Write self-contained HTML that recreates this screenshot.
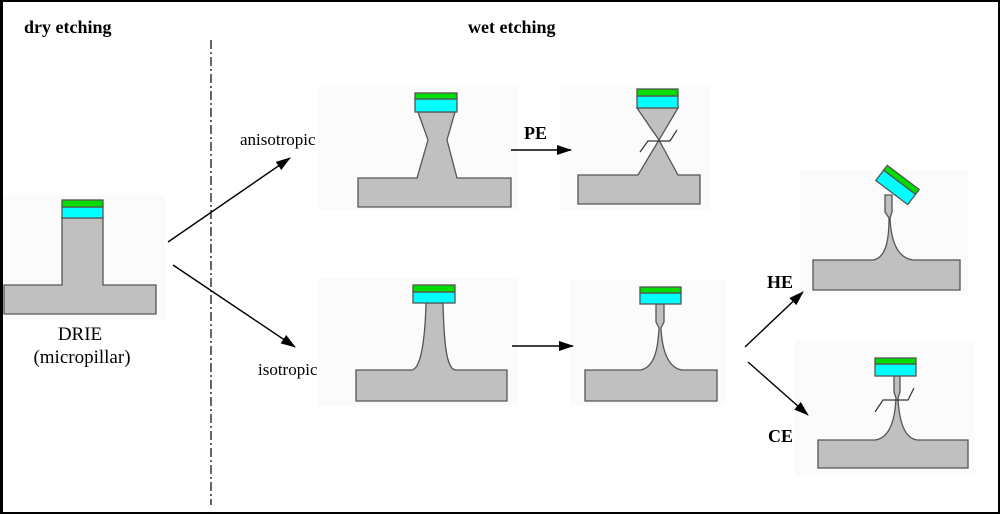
<!DOCTYPE html>
<html><head><meta charset="utf-8"><style>
html,body{margin:0;padding:0;background:#fff;}
svg{display:block;}
text{font-family:"Liberation Serif",serif;fill:#000;}
</style></head><body>
<svg width="1000" height="514" viewBox="0 0 1000 514" xmlns="http://www.w3.org/2000/svg">
<defs>
<marker id="ah" markerWidth="16" markerHeight="12" refX="14" refY="6" orient="auto" markerUnits="userSpaceOnUse">
<path d="M0,1 L15,6 L0,11 Z" fill="#000"/>
</marker>
</defs>
<rect x="1" y="1" width="998" height="512" fill="#fff" stroke="#000" stroke-width="2"/>
<line x1="1.5" y1="0" x2="1.5" y2="514" stroke="#000" stroke-width="3"/>

<text x="24" y="33" font-size="18" font-weight="bold">dry etching</text>
<text x="468" y="33" font-size="18" font-weight="bold">wet etching</text>

<line x1="211" y1="40" x2="211" y2="505" stroke="#000" stroke-width="1.2" stroke-dasharray="9,3,2,3"/>

<g fill="#fbfbfb">
<rect x="3" y="195" width="162" height="125"/>
<rect x="318" y="85" width="200" height="125"/>
<rect x="560" y="85" width="150" height="125"/>
<rect x="318" y="278" width="200" height="128"/>
<rect x="570" y="280" width="155" height="126"/>
<rect x="800" y="170" width="168" height="125"/>
<rect x="795" y="340" width="180" height="135"/>
</g>

<g stroke="#555" stroke-width="1.3" fill="#c0c0c0">
<path d="M62,218 L103,218 L103,285 L156,285 L156,314 L4,314 L4,285 L62,285 Z"/>
<rect x="62" y="207" width="41" height="11" fill="#00ffff"/>
<rect x="62" y="200" width="41" height="7" fill="#00dd00"/>

<path d="M418,112 L455,112 L447,140 L457,178 L511,178 L511,207 L358,207 L358,178 L417,178 L428,140 Z"/>
<rect x="415" y="99" width="42" height="13" fill="#00ffff"/>
<rect x="415" y="93" width="42" height="6" fill="#00dd00"/>

<path d="M637,108 L678,108 L659,140 L678,175 L700,175 L700,204 L578,204 L578,175 L638,175 L659,140 Z"/>
<rect x="637" y="96" width="41" height="12" fill="#00ffff"/>
<rect x="637" y="89" width="41" height="7" fill="#00dd00"/>

<path d="M426,303 L443,303 C444,340 446,368 455,370 L507,370 L507,401 L356,401 L356,370 L412,370 C421,368 425,340 426,303 Z"/>
<rect x="413" y="292" width="42" height="11" fill="#00ffff"/>
<rect x="413" y="285" width="42" height="7" fill="#00dd00"/>

<path d="M656,304 L664,304 L664,322 L661,328 C662,350 668,368 682,370 L717,370 L717,401 L585,401 L585,370 L640,370 C654,368 658,350 659,328 L656,322 Z"/>
<rect x="640" y="293" width="41" height="11" fill="#00ffff"/>
<rect x="640" y="287" width="41" height="6" fill="#00dd00"/>

<path d="M885,195 L892,195 L892,212 L890,218 C891,240 897,258 913,260 L960,260 L960,290 L813,290 L813,260 L873,260 C886,258 889,240 889,218 L885,212 Z"/>
<g transform="translate(896,187) rotate(37)">
<rect x="-20" y="-6" width="40" height="13" fill="#00ffff"/>
<rect x="-20" y="-12" width="40" height="6" fill="#00dd00"/>
</g>

<path d="M894,376 L900,376 L900,392 L898,398 C899,420 904,438 917,440 L968,440 L968,468 L818,468 L818,440 L875,440 C890,438 895,420 896,398 L894,392 Z"/>
<rect x="875" y="364" width="41" height="12" fill="#00ffff"/>
<rect x="875" y="358" width="41" height="6" fill="#00dd00"/>
</g>

<g stroke="#333" stroke-width="1.2" fill="none">
<path d="M640,152 L648,141 L670,141 L677,130"/>
<path d="M875,412 L883,400 L908,400 L914,388"/>
</g>

<g stroke="#000" stroke-width="1.4">
<line x1="168" y1="242" x2="290" y2="158" marker-end="url(#ah)"/>
<line x1="173" y1="265" x2="295" y2="347" marker-end="url(#ah)"/>
<line x1="511" y1="150" x2="571" y2="150" marker-end="url(#ah)"/>
<line x1="512" y1="346" x2="573" y2="346" marker-end="url(#ah)"/>
<line x1="745" y1="347" x2="803" y2="292" marker-end="url(#ah)"/>
<line x1="748" y1="362" x2="808" y2="415" marker-end="url(#ah)"/>
</g>

<text x="80" y="340" font-size="19" text-anchor="middle">DRIE</text>
<text x="82" y="363" font-size="19" text-anchor="middle">(micropillar)</text>
<text x="240" y="145" font-size="17">anisotropic</text>
<text x="258" y="375" font-size="17">isotropic</text>
<text x="524" y="139" font-size="18" font-weight="bold">PE</text>
<text x="767" y="288" font-size="18" font-weight="bold">HE</text>
<text x="768" y="442" font-size="18" font-weight="bold">CE</text>
</svg>
</body></html>
